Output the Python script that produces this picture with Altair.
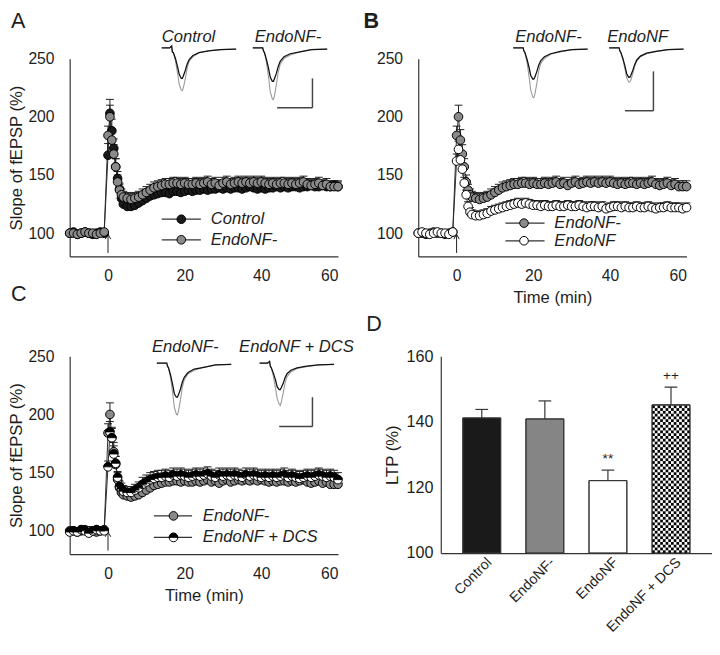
import altair as alt
import pandas as pd

FONT = "Liberation Sans"
INK = "#1e1e1e"
LINE = "#2a2a2a"

# ---------------- time course data (slope of fEPSP, % of baseline) ----------------
baseline_t = [-10, -9, -8, -7, -6, -5, -4, -3, -2, -1]
early_t = [0, 0.5, 1, 1.5, 2, 2.5, 3, 3.5, 4]
late_t = list(range(5, 61))
time_min = baseline_t + early_t + late_t

control_slope = [
    100, 101, 99, 100, 101, 100, 99, 100, 101, 100,
    167, 203, 188, 173, 157, 147, 138, 130, 125,
    123, 123, 124, 126, 128, 130, 132, 133, 134, 135,
    135, 134, 136, 136, 135, 136, 137, 136, 137, 137,
    138, 137, 138, 138, 139, 138, 139, 138, 139, 139,
    138, 139, 140, 139, 138, 139, 138, 139, 139, 140,
    139, 140, 139, 140, 140, 139, 140, 140, 141, 140,
    140, 141, 140, 140, 141, 140]
control_sem = [
    1, 1, 1, 1, 1, 1, 1, 1, 1, 1,
    10, 12, 10, 8, 7, 6, 5, 5, 5,
    5, 5, 5, 5, 4, 4, 4, 4, 4, 4,
    4, 4, 5, 4, 4, 4, 4, 4, 4, 4,
    4, 4, 4, 4, 4, 4, 4, 4, 5, 4,
    4, 4, 4, 4, 4, 4, 4, 4, 4, 4,
    4, 4, 4, 4, 4, 4, 4, 4, 4, 4,
    4, 4, 4, 4, 4, 4]

endonf_minus_slope = [
    100, 100, 99, 100, 101, 100, 100, 99, 100, 101,
    184, 200, 180, 168, 157, 144, 137, 133, 131,
    130, 129, 130, 131, 133, 135, 137, 139, 140, 141,
    142, 142, 143, 143, 142, 143, 142, 142, 143, 142,
    143, 144, 142, 143, 141, 143, 144, 142, 143, 144,
    143, 144, 143, 144, 143, 144, 143, 142, 143, 142,
    143, 143, 142, 143, 142, 143, 144, 142, 141, 142,
    143, 141, 142, 140, 140, 140]
endonf_minus_sem = [
    1, 1, 1, 1, 1, 1, 1, 1, 1, 1,
    8, 10, 9, 8, 7, 6, 5, 5, 5,
    5, 5, 5, 5, 5, 5, 5, 5, 5, 5,
    5, 5, 5, 5, 5, 5, 5, 5, 5, 5,
    5, 5, 5, 5, 5, 5, 5, 5, 5, 5,
    5, 5, 5, 5, 5, 5, 5, 5, 5, 5,
    5, 5, 5, 5, 5, 5, 5, 5, 5, 5,
    5, 5, 5, 5, 5, 5]

endonf_slope = [
    100, 101, 100, 99, 100, 101, 100, 100, 99, 101,
    162, 172, 163, 155, 143, 133, 123, 118, 116,
    115, 115, 116, 117, 119, 120, 121, 122, 123, 124,
    125, 126, 125, 126, 125, 124, 124, 123, 124, 123,
    123, 124, 123, 123, 124, 123, 123, 124, 123, 122,
    123, 123, 122, 123, 121, 122, 123, 123, 122, 123,
    122, 122, 123, 122, 122, 123, 122, 121, 122, 122,
    123, 122, 122, 122, 121, 122]
endonf_sem = [
    1, 1, 1, 1, 1, 1, 1, 1, 1, 1,
    6, 7, 6, 5, 5, 4, 4, 4, 4,
    4, 4, 4, 4, 4, 4, 4, 4, 4, 4,
    4, 4, 4, 4, 4, 4, 4, 4, 4, 4,
    4, 4, 4, 4, 4, 4, 4, 4, 4, 4,
    4, 4, 4, 4, 4, 4, 4, 4, 4, 4,
    4, 4, 4, 4, 4, 4, 4, 4, 4, 4,
    4, 4, 4, 4, 4, 4]

dcs_slope = [
    99, 100, 99, 101, 100, 98, 100, 101, 100, 100,
    155, 185, 180, 166, 158, 146, 138, 136, 134,
    133, 133, 135, 137, 140, 142, 144, 145, 146, 146,
    147, 146, 148, 147, 148, 147, 146, 147, 148, 147,
    148, 149, 147, 146, 148, 147, 148, 147, 148, 147,
    146, 148, 147, 148, 147, 146, 147, 146, 147, 146,
    147, 148, 146, 147, 146, 145, 146, 147, 146, 147,
    148, 147, 146, 147, 146, 144]
dcs_sem = [
    1, 1, 1, 1, 1, 1, 1, 1, 1, 1,
    5, 9, 8, 7, 6, 5, 5, 5, 5,
    5, 5, 5, 5, 6, 6, 6, 6, 6, 6,
    6, 6, 6, 6, 6, 6, 6, 6, 6, 6,
    6, 6, 6, 6, 6, 6, 6, 6, 6, 6,
    6, 6, 6, 6, 6, 6, 6, 6, 6, 6,
    6, 6, 6, 6, 6, 6, 6, 6, 6, 6,
    6, 6, 6, 6, 6, 6]

stim_time = [0]
arrow_base = [83]
arrow_tip = [99]

# ---------------- example fEPSP traces (ms, mV) ----------------
trace_ms = [0, 2.3, 2.9, 3.1, 3.4, 4.0, 4.6, 5.1, 5.7, 6.0, 6.3, 6.9, 7.4, 8.0, 9.1, 10.9, 13.7, 17.1, 21.7]
a_ctrl_pre = [0, 0, 0.03, -0.07, -0.08, -0.18, -0.32, -0.45, -0.52, -0.52, -0.48, -0.38, -0.28, -0.20, -0.13, -0.08, -0.05, -0.03, -0.02]
a_ctrl_post = [0, 0, 0.03, -0.07, -0.08, -0.22, -0.42, -0.62, -0.72, -0.73, -0.68, -0.52, -0.35, -0.23, -0.15, -0.08, -0.05, -0.03, -0.02]
a_endom_pre = [0, 0, 0, -0.05, -0.08, -0.20, -0.35, -0.50, -0.57, -0.57, -0.53, -0.43, -0.32, -0.23, -0.15, -0.10, -0.07, -0.03, -0.02]
a_endom_post = [0, 0, 0, -0.05, -0.08, -0.25, -0.50, -0.75, -0.87, -0.88, -0.82, -0.62, -0.42, -0.28, -0.18, -0.12, -0.07, -0.03, -0.02]
b_endom_pre = [0, 0, 0, -0.05, -0.08, -0.19, -0.33, -0.47, -0.53, -0.53, -0.50, -0.40, -0.30, -0.22, -0.15, -0.10, -0.06, -0.03, -0.02]
b_endom_post = [0, 0, 0, -0.05, -0.08, -0.24, -0.48, -0.72, -0.84, -0.85, -0.79, -0.60, -0.40, -0.27, -0.18, -0.11, -0.07, -0.03, -0.02]
b_endo_pre = [0, 0, 0, -0.05, -0.08, -0.18, -0.31, -0.44, -0.50, -0.50, -0.47, -0.38, -0.29, -0.21, -0.14, -0.09, -0.06, -0.03, -0.02]
b_endo_post = [0, 0, 0, -0.05, -0.08, -0.20, -0.36, -0.51, -0.58, -0.58, -0.55, -0.44, -0.32, -0.23, -0.15, -0.10, -0.06, -0.03, -0.02]
c_endom_pre = [0, 0, 0, -0.05, -0.08, -0.20, -0.36, -0.52, -0.58, -0.58, -0.54, -0.44, -0.33, -0.24, -0.16, -0.10, -0.07, -0.03, -0.02]
c_endom_post = [0, 0, 0, -0.05, -0.08, -0.25, -0.50, -0.75, -0.87, -0.88, -0.82, -0.62, -0.42, -0.28, -0.18, -0.12, -0.07, -0.03, -0.02]
c_dcs_pre = [0, 0, 0.03, -0.05, -0.08, -0.17, -0.28, -0.40, -0.45, -0.45, -0.42, -0.34, -0.25, -0.18, -0.12, -0.08, -0.05, -0.03, -0.02]
c_dcs_post = [0, 0, 0.03, -0.05, -0.08, -0.22, -0.42, -0.60, -0.70, -0.72, -0.67, -0.50, -0.34, -0.23, -0.15, -0.09, -0.06, -0.03, -0.02]
# scale bars: [x start ms, x end ms, y corner mV, y top mV]
a_scalebar = [7.1, 17.4, -1.02, -0.52]
b_scalebar = [4.6, 12.9, -1.07, -0.40]
c_scalebar = [5.7, 15.4, -1.08, -0.58]

# ---------------- LTP summary (panel D) ----------------
groups = ["Control", "EndoNF-", "EndoNF", "EndoNF + DCS"]
ltp = [141.2, 140.9, 122.1, 145.2]
ltp_sem = [2.6, 5.5, 3.2, 5.4]
sig = ["", "", "**", "++"]
bar_fill = ["#1a1a1a", "#858585", "#ffffff", "#ffffff"]

CIRCLE = "M-1,0A1,1,0,1,1,1,0A1,1,0,1,1,-1,0Z"
HALF = "M-1,0A1,1,0,0,1,1,0Z"
CHEVRON = "M-0.8,1.4L0,0L0.8,1.4"
MS = 78
FILLS = {"black": "#1a1a1a", "gray": "#8a8a8a", "white": "#ffffff"}
one = pd.DataFrame({"k": [0]})


def marks_for(style, data, enc):
    if style == "half":
        return [
            alt.Chart(data).mark_point(shape=CIRCLE, filled=True, fill="#ffffff", stroke="#000000",
                                       strokeWidth=1, size=MS, opacity=1).encode(**enc),
            alt.Chart(data).mark_point(shape=HALF, filled=True, fill="#000000", stroke="#000000",
                                       strokeWidth=0.8, size=MS, opacity=1).encode(**enc),
        ]
    return [alt.Chart(data).mark_point(shape=CIRCLE, filled=True, fill=FILLS[style], stroke="#000000",
                                       strokeWidth=1, size=MS, opacity=1).encode(**enc)]


def label(text, x, y, size=17, italic=True, weight="normal", baseline="middle"):
    return alt.Chart(one).mark_text(
        text=text, align="left", baseline=baseline, font=FONT, fontSize=size,
        fontStyle="italic" if italic else "normal", fontWeight=weight, color=INK
    ).encode(x=alt.value(x), y=alt.value(y))


def legend(rows, x0, x1, xm, xt):
    layers = []
    for name, style, y in rows:
        layers.append(alt.Chart(one).mark_rule(color="#333333", strokeWidth=1.3).encode(
            x=alt.value(x0), x2=alt.value(x1), y=alt.value(y)))
        layers += marks_for(style, one, dict(x=alt.value(xm), y=alt.value(y)))
        layers.append(label(name, xt, y))
    return layers


def inset(pre, post, x_start, base_px, bar=None):
    n = len(trace_ms)
    df = pd.DataFrame({"ms": trace_ms + trace_ms, "mv": post + pre, "kind": ["post"] * n + ["pre"] * n})
    xs = alt.Scale(domain=[0, 21.7], range=[x_start, x_start + 76], nice=False, zero=False)
    ys = alt.Scale(domain=[-1.2, 0], range=[base_px + 72, base_px], nice=False, zero=False)
    layers = [
        alt.Chart(df[df.kind == "post"]).mark_line(color="#9a9a9a", strokeWidth=1.1).encode(
            x=alt.X("ms:Q", scale=xs, axis=None), y=alt.Y("mv:Q", scale=ys, axis=None)),
        alt.Chart(df[df.kind == "pre"]).mark_line(color="#111111", strokeWidth=1.3).encode(
            x=alt.X("ms:Q", axis=None), y=alt.Y("mv:Q", axis=None)),
    ]
    if bar is not None:
        bdf = pd.DataFrame({"x0": [bar[0]], "x1": [bar[1]], "y0": [bar[2]], "y1": [bar[3]]})
        layers.append(alt.Chart(bdf).mark_rule(color="#444444", strokeWidth=1.5).encode(
            x=alt.X("x0:Q", axis=None), x2="x1:Q", y=alt.Y("y0:Q", axis=None)))
        layers.append(alt.Chart(bdf).mark_rule(color="#444444", strokeWidth=1.5).encode(
            x=alt.X("x1:Q", axis=None), y=alt.Y("y0:Q", axis=None), y2="y1:Q"))
    return alt.layer(*layers)


def series_frame(name, values, sems):
    return pd.DataFrame({"t": time_min, "v": values,
                         "top": [v + s for v, s in zip(values, sems)], "series": name})


def time_panel(entries, y_title, x_title, extra):
    frames = [series_frame(n, v, s) for n, v, s, _ in entries]
    df = pd.concat(frames, ignore_index=True)
    x = alt.X("t:Q", scale=alt.Scale(domain=[-10, 60], nice=False, zero=False),
              axis=alt.Axis(values=[0, 20, 40, 60], title=x_title, labelPadding=12, titlePadding=6,
                            titleFontSize=17))
    y = alt.Y("v:Q", scale=alt.Scale(domain=[80, 250], nice=False, zero=False),
              axis=alt.Axis(values=[100, 150, 200, 250], title=y_title, labelPadding=16, titlePadding=2))
    layers = [
        alt.Chart(df).mark_line(color=LINE, strokeWidth=1).encode(x=x, y=y, detail="series:N"),
        alt.Chart(df).mark_rule(color=INK, strokeWidth=1).encode(x="t:Q", y="v:Q", y2="top:Q"),
        alt.Chart(df).mark_tick(orient="horizontal", size=8, thickness=1, color=INK, opacity=1).encode(
            x="t:Q", y="top:Q"),
    ]
    adf = pd.DataFrame({"t": stim_time, "y0": arrow_base, "y1": arrow_tip})
    layers.append(alt.Chart(adf).mark_rule(color=INK, strokeWidth=1).encode(x="t:Q", y="y0:Q", y2="y1:Q"))
    layers.append(alt.Chart(adf).mark_point(shape=CHEVRON, filled=False, stroke=INK, strokeWidth=1,
                                            size=49, opacity=1).encode(x="t:Q", y="y1:Q"))
    for f, (_, _, _, style) in zip(frames, entries):
        layers += marks_for(style, f, dict(x="t:Q", y="v:Q"))
    main = alt.layer(*layers)
    return alt.layer(main, *extra).resolve_scale(x="independent", y="independent").properties(
        width=274, height=202)


panel_a = time_panel(
    [("Control", control_slope, control_sem, "black"),
     ("EndoNF-", endonf_minus_slope, endonf_minus_sem, "gray")],
    "Slope of fEPSP (%)", None,
    [inset(a_ctrl_pre, a_ctrl_post, 94, -11),
     inset(a_endom_pre, a_endom_post, 187, -11, a_scalebar),
     label("Control", 94, -22), label("EndoNF-", 189, -22),
     label("A", -60, -48, size=22, italic=False, baseline="top")]
    + legend([("Control", "black", 164), ("EndoNF-", "gray", 185)], 94, 134, 114, 144))

panel_b = time_panel(
    [("EndoNF-", endonf_minus_slope, endonf_minus_sem, "gray"),
     ("EndoNF", endonf_slope, endonf_sem, "white")],
    None, "Time (min)",
    [inset(b_endom_pre, b_endom_post, 97, -11),
     inset(b_endo_pre, b_endo_post, 195, -11, b_scalebar),
     label("EndoNF-", 99, -22), label("EndoNF", 193, -22),
     label("B", -56, -48, size=22, italic=False, weight="bold", baseline="top")]
    + legend([("EndoNF-", "gray", 168), ("EndoNF", "white", 186)], 89, 129, 108, 139))

panel_c = time_panel(
    [("EndoNF-", endonf_minus_slope, endonf_minus_sem, "gray"),
     ("EndoNF + DCS", dcs_slope, dcs_sem, "half")],
    "Slope of fEPSP (%)", "Time (min)",
    [inset(c_endom_pre, c_endom_post, 89, 7),
     inset(c_dcs_pre, c_dcs_post, 194, 7, c_scalebar),
     label("EndoNF-", 84, -9), label("EndoNF + DCS", 173, -9),
     label("C", -60, -73, size=22, italic=False, baseline="top")]
    + legend([("EndoNF-", "gray", 163), ("EndoNF + DCS", "half", 185)], 86, 125, 106, 136))

# ---------------- panel D ----------------
D_SHIFT = 23  # D's axes sit this far right of panel B's left edge
dfd = pd.DataFrame({"group": groups, "ltp": ltp, "top": [a + b for a, b in zip(ltp, ltp_sem)],
                    "base": [100] * len(groups), "fill": bar_fill, "sig": sig})
n_cols = 14
cell_h = 0.85
cells = []
dcs_val = ltp[3]
i = 0
while 100 + i * cell_h < dcs_val:
    for j in range(n_cols):
        if (i + j) % 2 == 0:
            cells.append({"group": groups[3], "col": j, "y0": 100 + i * cell_h,
                          "y1": min(100 + (i + 1) * cell_h, dcs_val)})
    i += 1
cells = pd.DataFrame(cells)

xd = alt.X("group:N", sort=groups,
           scale=alt.Scale(domain=groups, range=[D_SHIFT, 300], paddingInner=0.4, paddingOuter=0.35),
           axis=alt.Axis(title=None, labelAngle=315, labelAlign="right", labelBaseline="middle",
                         labelPadding=7, labelOffset=8, labelFontSize=14.5))
yd = alt.Y("ltp:Q", scale=alt.Scale(domain=[100, 160], nice=False, zero=False),
           axis=alt.Axis(values=[100, 120, 140, 160], title="LTP (%)", labelPadding=8, titlePadding=5,
                         labelFontSize=16.5, offset=-D_SHIFT))
panel_d = alt.layer(
    alt.Chart(dfd).mark_bar(stroke="#333333", strokeWidth=1, opacity=1).encode(
        x=xd, y=yd, y2="base:Q", fill=alt.Fill("fill:N", scale=None)),
    alt.Chart(cells).mark_bar(color="#000000", opacity=1).encode(
        x="group:N", xOffset=alt.XOffset("col:O", scale=alt.Scale(paddingInner=0, paddingOuter=0)),
        y="y0:Q", y2="y1:Q"),
    alt.Chart(dfd).mark_bar(fill="transparent", stroke="#333333", strokeWidth=1).encode(
        x="group:N", y="ltp:Q", y2="base:Q"),
    alt.Chart(dfd).mark_rule(color="#333333", strokeWidth=1.2).encode(x="group:N", y="ltp:Q", y2="top:Q"),
    alt.Chart(dfd).mark_tick(orient="horizontal", size=13, thickness=1.2, color="#333333", opacity=1).encode(
        x="group:N", y="top:Q"),
    alt.Chart(dfd).mark_text(dy=-11, fontSize=14, font=FONT, color=INK).encode(
        x="group:N", y="top:Q", text="sig:N"),
    label("D", D_SHIFT - 76, -43, size=22, italic=False, baseline="top"),
).properties(width=300, height=201)

left_col = alt.vconcat(panel_a, panel_c, spacing=102, bounds="flush")
right_col = alt.vconcat(panel_b, panel_d, spacing=102, bounds="flush")

chart = (
    alt.hconcat(left_col, right_col, spacing=9)
    .properties(padding={"left": 0, "top": -4, "right": 0, "bottom": -2})
    .configure_view(strokeWidth=0)
    .configure_axis(grid=False, ticks=False, domainColor="#333333", domainWidth=1.2,
                    labelFont=FONT, titleFont=FONT, labelFontSize=16, titleFontSize=17,
                    labelColor=INK, titleColor=INK, titleFontWeight="normal")
)

chart.save("out.html", embed_options={"renderer": "svg", "actions": False})
